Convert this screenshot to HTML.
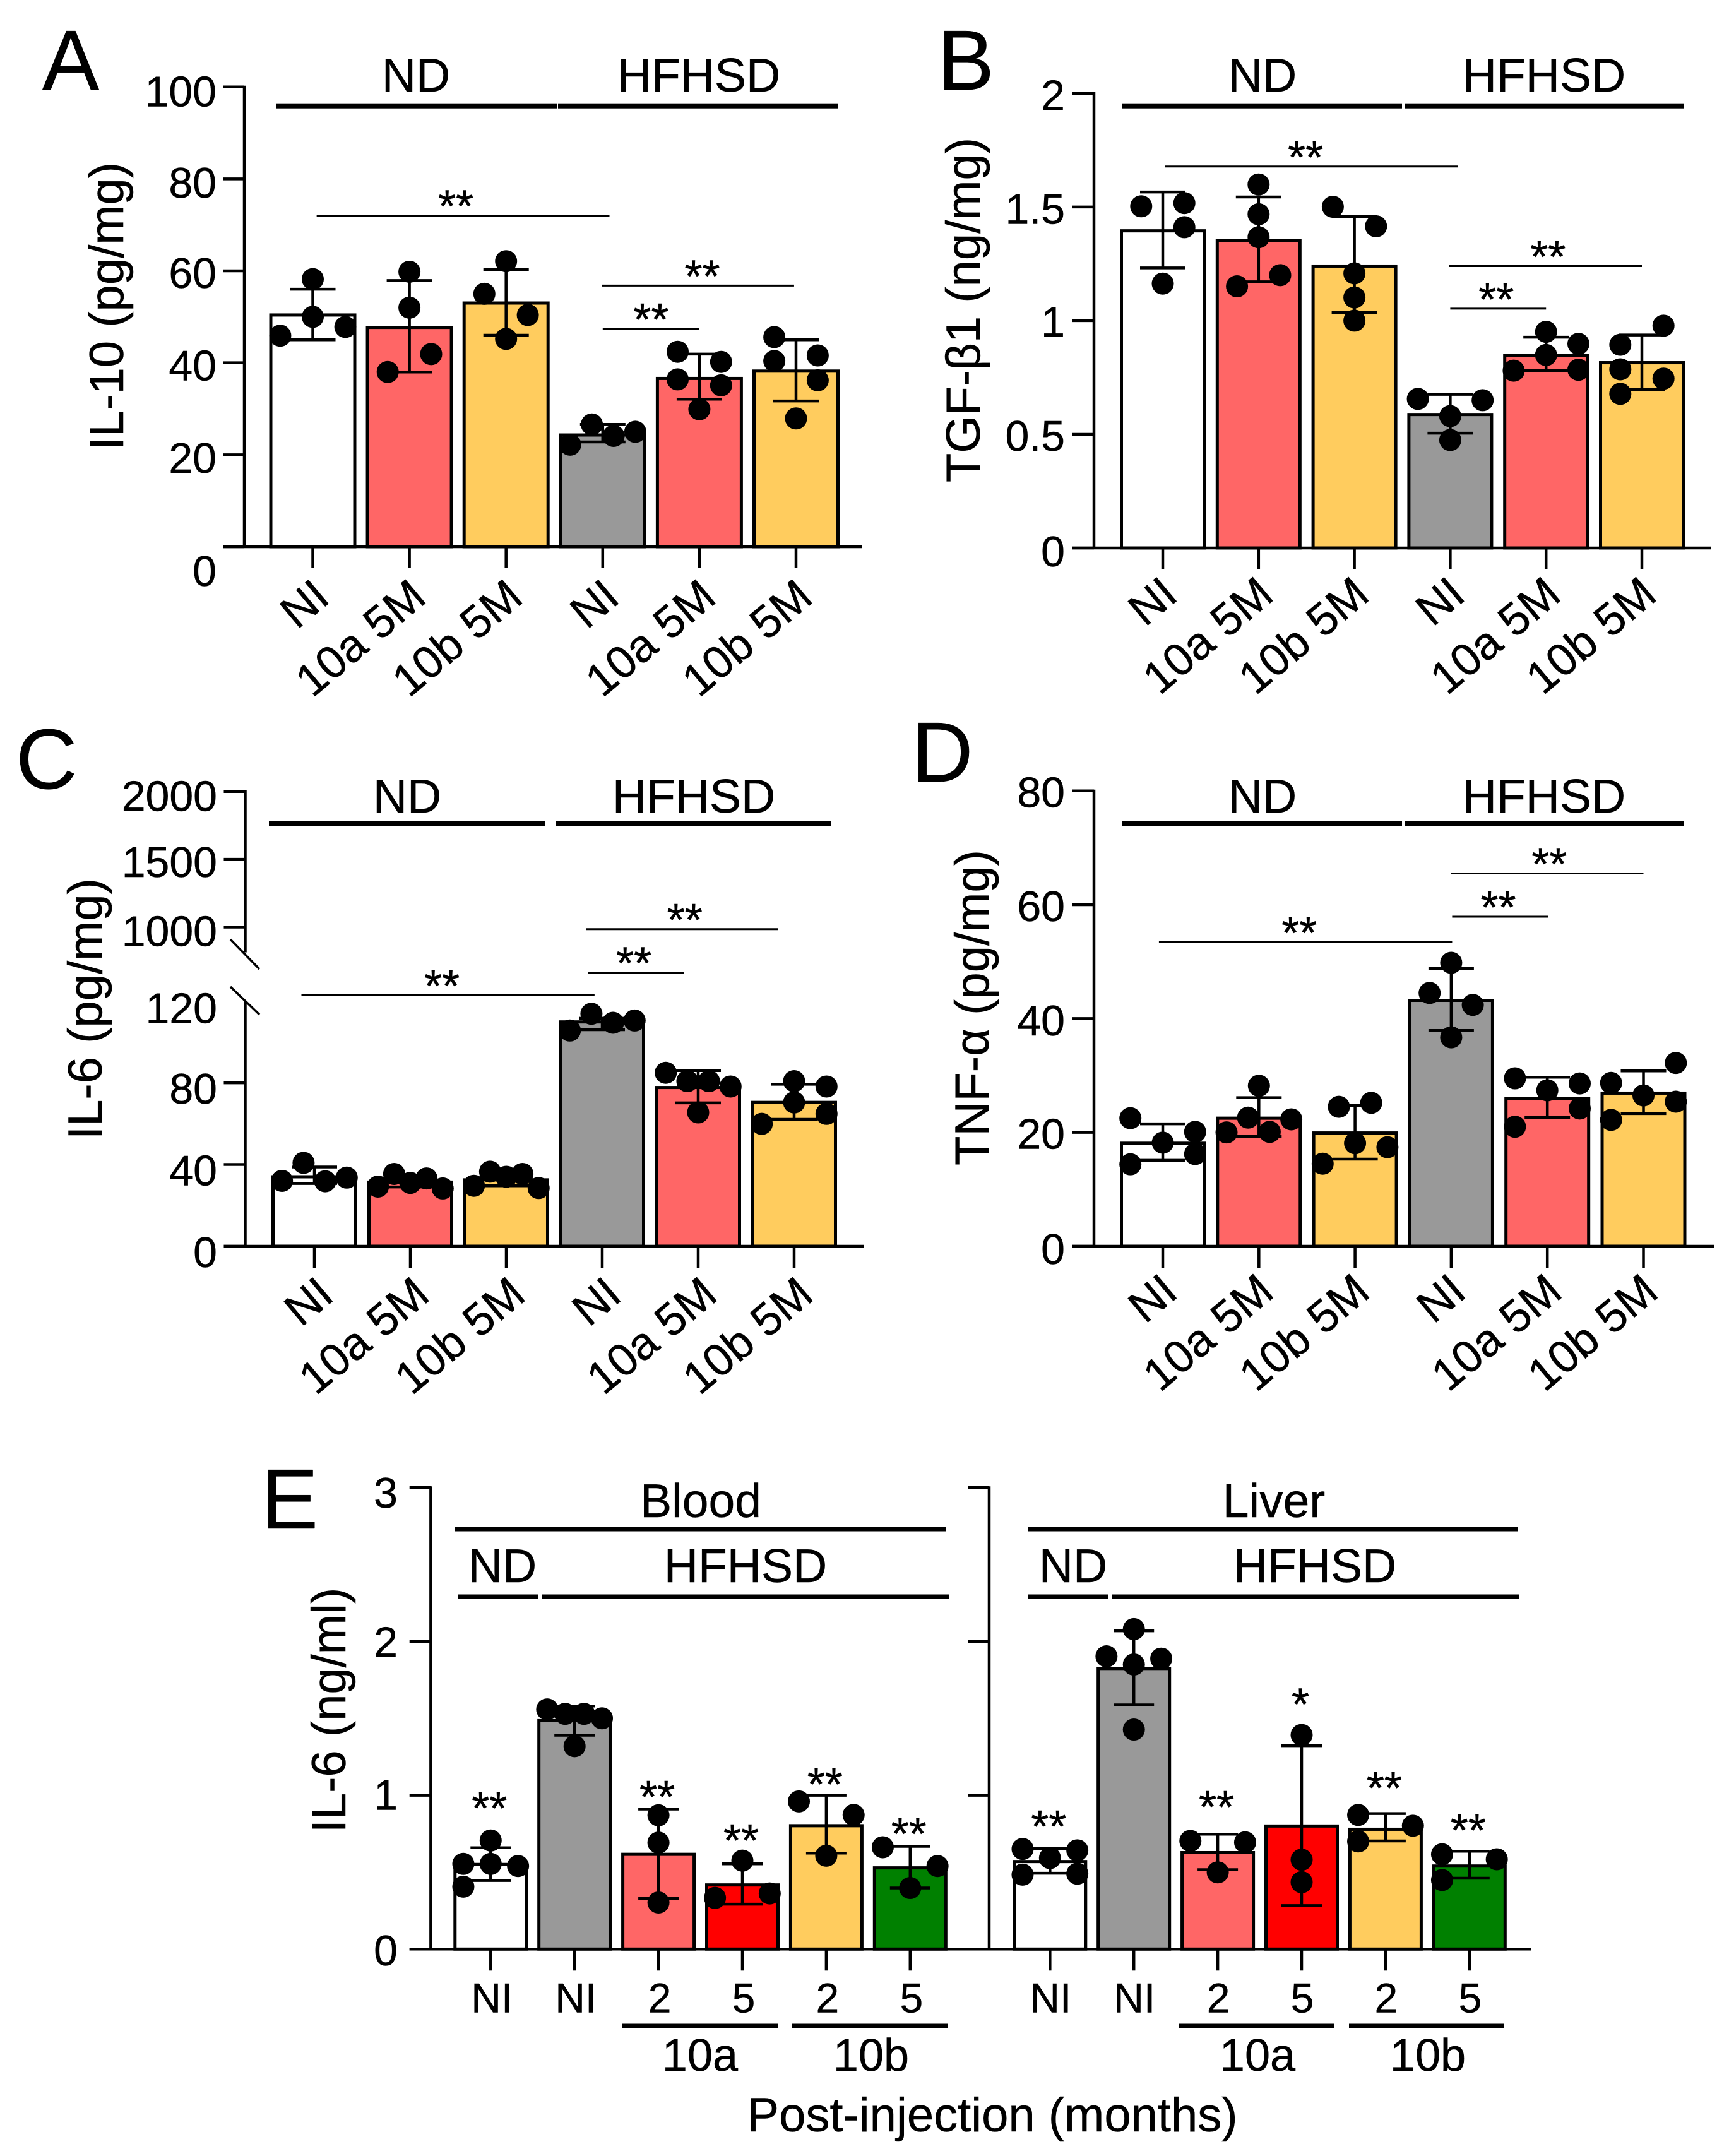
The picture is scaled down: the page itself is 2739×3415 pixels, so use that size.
<!DOCTYPE html>
<html lang="en">
<head>
<meta charset="utf-8">
<title>Cytokine bar charts</title>
<style>
html,body{margin:0;padding:0;background:#fff}
svg{display:block}
text{font-family:"Liberation Sans",sans-serif;fill:#000;stroke:#000;stroke-width:.5px}
.grp{font-size:75px;text-anchor:middle}
.let{font-size:135px}
.ytitle{font-size:76px;text-anchor:middle}
.xg{font-size:72px;text-anchor:middle}
</style>
</head>
<body>
<svg id="figure" xmlns="http://www.w3.org/2000/svg" width="2739" height="3415" viewBox="0 0 2739 3415">
<rect width="2739" height="3415" fill="#fff"/>

<text class="let" x="67" y="142">A</text>
<text class="let" x="1485" y="142">B</text>
<text class="let" x="25" y="1249">C</text>
<text class="let" x="1444" y="1238">D</text>
<text class="let" x="414" y="2421">E</text>

<text class="ytitle" transform="translate(195,485) rotate(-90)">IL-10 (pg/mg)</text>
<text class="ytitle" transform="translate(1552,491) rotate(-90)">TGF-β1 (ng/mg)</text>
<text class="ytitle" transform="translate(161,1598) rotate(-90)">IL-6 (pg/mg)</text>
<text class="ytitle" transform="translate(1566,1596) rotate(-90)">TNF-α (pg/mg)</text>
<text class="ytitle" transform="translate(547,2709) rotate(-90)">IL-6 (ng/ml)</text>

<g>
<text class="grp" x="659" y="145">ND</text>
<text class="grp" x="1107" y="145">HFHSD</text>
<rect x="438" y="163.700" width="444" height="8"/>
<rect x="884" y="163.700" width="444" height="8"/>
<text class="grp" x="2000" y="145">ND</text>
<text class="grp" x="2446" y="145">HFHSD</text>
<rect x="1778" y="163.700" width="443" height="8"/>
<rect x="2225" y="163.700" width="443" height="8"/>
<text class="grp" x="645" y="1287">ND</text>
<text class="grp" x="1099" y="1287">HFHSD</text>
<rect x="426" y="1300.500" width="438" height="8"/>
<rect x="881" y="1300.500" width="436" height="8"/>
<text class="grp" x="2000" y="1287">ND</text>
<text class="grp" x="2446" y="1287">HFHSD</text>
<rect x="1778" y="1300.500" width="443" height="8"/>
<rect x="2225" y="1300.500" width="443" height="8"/>

<text class="grp" x="1110" y="2403">Blood</text>
<rect x="721" y="2418.500" width="777" height="7"/>
<text class="grp" x="796" y="2506">ND</text>
<text class="grp" x="1181" y="2506">HFHSD</text>
<rect x="725" y="2525.500" width="128" height="7"/>
<rect x="859" y="2525.500" width="645" height="7"/>
<text class="grp" x="2018" y="2403">Liver</text>
<rect x="1628" y="2418.500" width="776" height="7"/>
<text class="grp" x="1700" y="2506">ND</text>
<text class="grp" x="2083" y="2506">HFHSD</text>
<rect x="1628" y="2525.500" width="127" height="7"/>
<rect x="1762" y="2525.500" width="645" height="7"/>

<rect x="985" y="3205.500" width="247" height="6.500"/>
<rect x="1255" y="3205.500" width="246" height="6.500"/>
<rect x="1867" y="3205.500" width="247" height="6.500"/>
<rect x="2137" y="3205.500" width="246" height="6.500"/>
<text class="xg" x="1109" y="3280">10a</text>
<text class="xg" x="1380" y="3280">10b</text>
<text class="xg" x="1992" y="3280">10a</text>
<text class="xg" x="2262" y="3280">10b</text>
<text x="1572" y="3376" font-size="76" text-anchor="middle">Post-injection (months)</text>
</g>
<g id="plots"></g>
</svg>

<script>
/* ---------- Panel A: IL-10 ---------- */
const a_categories = ['NI','10a 5M','10b 5M','NI','10a 5M','10b 5M'];
const a_means = [50.4,47.7,53,24.3,36.6,38.2];
const a_errHigh = [56,57.9,60.3,26.6,41.9,45];
const a_errLow = [45,38,46,22.8,32.1,31.7];
const a_dots = [[58.2,50,47.8,45.9],[59.8,52,41.9,38],[62.1,55,50.4,45.2],[26.6,25,24.1,22.2],[42.4,40.2,36.4,35.1,29.9],[45.6,41.6,40.4,36.2,27.9]];
const a_dotSlots = [[0,0,1.5,-1.5],[0,0,1,-1],[0,-1,1,0],[-0.5,1.5,0.5,-1.5],[-1,1,-1,1,0],[-1,1,-1,1,0]];
const a_ticks = [0,20,40,60,80,100];
const a_tickLabels = ['0','20','40','60','80','100'];
const a_sigFrom = [0.04,2.99,3];
const a_sigTo = [3.07,4.98,4];
const a_sigLevel = [72,56.8,47.4];
const a_sigStar = [1.48,4.03,3.5];

/* ---------- Panel B: TGF-beta1 ---------- */
const b_categories = ['NI','10a 5M','10b 5M','NI','10a 5M','10b 5M'];
const b_means = [1.395,1.352,1.24,0.587,0.847,0.815];
const b_errHigh = [1.566,1.544,1.458,0.676,0.927,0.937];
const b_errLow = [1.232,1.171,1.035,0.505,0.78,0.697];
const b_dots = [[1.503,1.517,1.411,1.163],[1.599,1.468,1.367,1.2,1.151],[1.501,1.415,1.208,1.102,1],[0.656,0.65,0.58,0.475],[0.951,0.898,0.849,0.78,0.784],[0.978,0.894,0.786,0.745,0.678]];
const b_dotSlots = [[-1,1,1,0],[0,0,0,1,-1],[-1,1,0,0,0],[-1.5,1.5,0,0],[0,1.5,0,-1.5,1.5],[1,-1,-1,1,-1]];
const b_ticks = [0,0.5,1,1.5,2];
const b_tickLabels = ['0','0.5','1','1.5','2'];
const b_sigFrom = [0.02,2.99,3];
const b_sigTo = [3.08,5,4];
const b_sigLevel = [1.678,1.24,1.053];
const b_sigStar = [1.49,4.02,3.48];

/* ---------- Panel C: IL-6 liver, broken axis ---------- */
const c_categories = ['NI','10a 5M','10b 5M','NI','10a 5M','10b 5M'];
const c_means = [34,31.4,32.5,109.8,77.7,70.4];
const c_errHigh = [38.8,34.5,35.5,111.6,86,79.3];
const c_errLow = [30.7,29,29.6,106,70.2,62.1];
const c_dots = [[40.8,32,31.8,33.6],[35.4,33.2,29.2,31,28.3],[36.5,35.4,34,29.6,28.5],[113.8,110.5,109.4,105.6],[84.9,80.8,80.8,78.2,65.5],[80.8,78.2,70.4,64.8,59.9]];
const c_dotSlots = [[-0.5,-1.5,0.5,1.5],[-0.75,0.75,-1.5,0,1.5],[-0.75,0.75,0,-1.5,1.5],[-0.5,1.5,0.5,-1.5],[-1.5,-0.5,0.5,1.5,0],[0,1.5,0,1.5,-1.5]];
const c_ticks = [0,40,80,1000,1500,2000];
const c_tickLabels = ['0','40','80','1000','1500','2000'];
const c_extraLabels = ['120'];
const c_extraLabelValues = [120];
const c_sigFrom = [-0.135,2.855,2.83];
const c_sigTo = [2.92,3.85,4.835];
const c_sigLevel = [122.9,133.9,155.2];
const c_sigStar = [1.33,3.33,3.86];

/* ---------- Panel D: TNF-alpha ---------- */
const d_categories = ['NI','10a 5M','10b 5M','NI','10a 5M','10b 5M'];
const d_means = [18.1,22.5,19.9,43.2,26,26.9];
const d_errHigh = [21.5,26.1,24.7,48.8,29.7,30.8];
const d_errLow = [15.1,19.3,15.3,37.9,22.6,23.3];
const d_dots = [[22.5,20.1,18.2,16.2,14.4],[28.2,22.6,22.3,20,20.1],[24.5,25.2,18.1,17.4,14.5],[49.8,44.5,42.4,36.7],[29.5,28.6,27.4,24.2,21],[28.7,32.2,26.5,25.4,22.2]];
const d_dotSlots = [[-1.5,1.5,0,1.5,-1.5],[0,-0.5,1.5,-1.5,0.5],[-0.75,0.75,0,1.5,-1.5],[0,-1,1,0],[-1.5,1.5,0,1.5,-1.5],[-1.5,1.5,0,1.5,-1.5]];
const d_ticks = [0,20,40,60,80];
const d_tickLabels = ['0','20','40','60','80'];
const d_sigFrom = [-0.04,3.01,3];
const d_sigTo = [3.01,4.01,5];
const d_sigLevel = [53.4,57.9,65.5];
const d_sigStar = [1.42,3.49,4.02];

/* ---------- Panel E: IL-6 time course ---------- */
const e_ticks = [0,1,2,3];
const e_tickLabels = ['0','1','2','3'];
const eb_categories = ['NI','NI','2','5','2','5'];
const eb_means = [0.55,1.485,0.616,0.417,0.802,0.528];
const eb_errHigh = [0.659,1.58,0.91,0.554,1,0.668];
const eb_errLow = [0.446,1.39,0.33,0.292,0.624,0.397];
const eb_dots = [[0.706,0.554,0.554,0.54,0.406],[1.558,1.529,1.529,1.5,1.319],[0.87,0.692,0.303],[0.575,0.362,0.333],[0.96,0.872,0.607],[0.662,0.54,0.397]];
const eb_dotSlots = [[0,-1.45,0,1.45,-1.45],[-1.45,-0.5,0.5,1.45,0],[0,0,0],[0,1.45,-1.45],[-1.45,1.45,0],[-1.45,1.45,0]];
const eb_starMarks = ['**','','**','**','**','**'];
const eb_starLevels = [0.945,0,1.018,0.735,1.1,0.779];
const el_categories = ['NI','NI','2','5','2','5'];
const el_means = [0.569,1.824,0.627,0.8,0.779,0.54];
const el_errHigh = [0.654,2.069,0.747,1.322,0.881,0.636];
const el_errLow = [0.493,1.587,0.516,0.283,0.703,0.461];
const el_dots = [[0.651,0.642,0.592,0.484,0.49],[2.08,1.903,1.888,1.85,1.427],[0.703,0.694,0.499],[1.392,0.581,0.435],[0.872,0.802,0.7],[0.616,0.584,0.449]];
const el_dotSlots = [[-1.45,1.45,0,-1.45,1.45],[0,-1.45,1.45,0,0],[-1.45,1.45,0],[0,0,0],[-1.45,1.45,-1.45],[-1.45,1.45,-1.45]];
const el_starMarks = ['**','','**','*','**','**'];
const el_starLevels = [0.826,0,0.954,1.62,1.077,0.802];

const PINK = '#FF6666', GOLD = '#FFCC5E', GREY = '#999999', RED = '#FF0000', GREEN = '#008000', WHITE = '#FFFFFF';
const NS = 'http://www.w3.org/2000/svg';
const root = document.getElementById('plots');

function mk(parent, tag, attrs) {
  const el = document.createElementNS(NS, tag);
  for (const k in attrs) el.setAttribute(k, attrs[k]);
  parent.appendChild(el);
  return el;
}

function drawBars(g, cfg) {
  const xAt = i => cfg.x0 + i * cfg.step;
  cfg.means.forEach((m, i) => {
    const cx = xAt(i), w = cfg.barW - 5;
    const bar = mk(g, 'rect', {x: cx - w / 2, y: cfg.y(m), width: w, height: cfg.y(0) - cfg.y(m), fill: cfg.colors[i], stroke: '#000', 'stroke-width': 5});
    
    
  });
  cfg.means.forEach((m, i) => {
    const cx = xAt(i), hi = cfg.y(cfg.errHigh[i]), lo = cfg.y(cfg.errLow[i]);
    const stem = mk(g, 'line', {x1: cx, x2: cx, y1: hi, y2: lo, stroke: '#000', 'stroke-width': 4.5});
    
    
    const capHi = mk(g, 'line', {x1: cx - cfg.cap, x2: cx + cfg.cap, y1: hi, y2: hi, stroke: '#000', 'stroke-width': 4.5});
    
    
    const capLo = mk(g, 'line', {x1: cx - cfg.cap, x2: cx + cfg.cap, y1: lo, y2: lo, stroke: '#000', 'stroke-width': 4.5});
    
    
  });
  cfg.dots.forEach((vals, i) => {
    vals.forEach((v, j) => {
      const dot = mk(g, 'circle', {cx: xAt(i) + cfg.dotSlots[i][j] * cfg.slot, cy: cfg.y(v), r: 17.5, fill: '#000'});
      
      
    });
  });
}

function drawXTicks(g, cfg) {
  cfg.means.forEach((m, i) => {
    const cx = cfg.x0 + i * cfg.step;
    const tick = mk(g, 'line', {x1: cx, x2: cx, y1: cfg.y(0), y2: cfg.y(0) + 34, stroke: '#000', 'stroke-width': 4.5});
    
    
    const label = mk(g, 'text', cfg.rotated
      ? {'font-size': 72, 'text-anchor': 'end', transform: 'translate(' + (cx + cfg.xLabelDx) + ',' + (cfg.y(0) + cfg.xLabelDy) + ') rotate(-40)'}
      : {'font-size': 66, 'text-anchor': 'middle', x: cx + cfg.xLabelDx, y: cfg.y(0) + cfg.xLabelDy});
    label.textContent = cfg.categories[i];
    
    
  });
}

function drawYAxis(g, cfg) {
  if (!cfg.broken) {
    const top = cfg.y(cfg.ticks[cfg.ticks.length - 1]);
    const axis = mk(g, 'line', {x1: cfg.axisX, x2: cfg.axisX, y1: top - 2, y2: cfg.y(0), stroke: '#000', 'stroke-width': 4.5});
    
    
  }
  cfg.ticks.forEach((t, i) => {
    const ty = cfg.y(t);
    const tick = mk(g, 'line', {x1: cfg.tickLeft, x2: cfg.axisX, y1: ty, y2: ty, stroke: '#000', 'stroke-width': 4.5});
    
    
    if (cfg.tickLabels) {
      const lbl = mk(g, 'text', {'font-size': cfg.tickFont, 'text-anchor': 'end', x: cfg.labelRight, y: ty + cfg.tickFont * 0.35 + cfg.labelNudge[i]});
      lbl.textContent = cfg.tickLabels[i];
      
      
    }
  });
}

function drawBaseline(g, x1, x2, y) {
  const base = mk(g, 'line', {x1: x1, x2: x2, y1: y, y2: y, stroke: '#000', 'stroke-width': 4.5});
  
  
}

function starText(g, x, lineY, mark) {
  const s = mk(g, 'text', {'font-size': 72, 'text-anchor': 'middle', x: x, y: lineY + 10});
  s.textContent = mark;
  
  
}

function drawSig(g, cfg) {
  const xAt = i => cfg.x0 + i * cfg.step;
  cfg.sigLevel.forEach((lv, i) => {
    const ly = cfg.y(lv);
    const line = mk(g, 'line', {x1: xAt(cfg.sigFrom[i]), x2: xAt(cfg.sigTo[i]), y1: ly, y2: ly, stroke: '#000', 'stroke-width': 3});
    
    
    starText(g, xAt(cfg.sigStar[i]), ly, '**');
  });
}

function drawPanel(cfg) {
  const g = mk(root, 'g', {});
  
  
  drawBars(g, cfg);
  drawBaseline(g, cfg.tickLeft, cfg.axisRight, cfg.y(0));
  drawYAxis(g, cfg);
  drawXTicks(g, cfg);
  drawSig(g, cfg);
  return g;
}

const colors6 = [WHITE, PINK, GOLD, GREY, PINK, GOLD];

drawPanel({
  name: 'panel-a', x0: 495.5, step: 153.1, barW: 138, cap: 36, slot: 34.4,
  y: v => 866 - v * 7.283, axisX: 387, tickLeft: 353, axisRight: 1366,
  labelRight: 343, tickFont: 68, labelNudge: [38, 5, 4, 3, 6, 7],
  rotated: true, xLabelDx: 30, xLabelDy: 86, colors: colors6,
  categories: a_categories, means: a_means, errHigh: a_errHigh, errLow: a_errLow,
  dots: a_dots, dotSlots: a_dotSlots, ticks: a_ticks, tickLabels: a_tickLabels,
  sigFrom: a_sigFrom, sigTo: a_sigTo, sigLevel: a_sigLevel, sigStar: a_sigStar
});

drawPanel({
  name: 'panel-b', x0: 1842, step: 151.8, barW: 136, cap: 36, slot: 34.2,
  y: v => 868 - v * 360.1, axisX: 1733, tickLeft: 1699, axisRight: 2711,
  labelRight: 1687, tickFont: 68, labelNudge: [5, 2, 2, 3, 3],
  rotated: true, xLabelDx: 27, xLabelDy: 80, colors: colors6,
  categories: b_categories, means: b_means, errHigh: b_errHigh, errLow: b_errLow,
  dots: b_dots, dotSlots: b_dotSlots, ticks: b_ticks, tickLabels: b_tickLabels,
  sigFrom: b_sigFrom, sigTo: b_sigTo, sigLevel: b_sigLevel, sigStar: b_sigStar
});

/* Panel C piecewise axis: lower segment 0-120, upper segment 1000-2000 */
const yC = v => v <= 200 ? 1974 - v * 3.236 : 1468.5 - (v - 1000) * 0.2147;
const gC = drawPanel({
  name: 'panel-c', x0: 498, step: 152, barW: 136, cap: 36, slot: 34.2,
  y: yC, axisX: 388.5, tickLeft: 354.5, axisRight: 1368, broken: true,
  labelRight: 344, tickFont: 68, labelNudge: [9, 9, 9, 6, 4, 7],
  rotated: true, xLabelDx: 34, xLabelDy: 83, colors: colors6,
  categories: c_categories, means: c_means, errHigh: c_errHigh, errLow: c_errLow,
  dots: c_dots, dotSlots: c_dotSlots, ticks: c_ticks, tickLabels: c_tickLabels,
  sigFrom: c_sigFrom, sigTo: c_sigTo, sigLevel: c_sigLevel, sigStar: c_sigStar
});
const cLower = mk(gC, 'line', {x1: 388.5, x2: 388.5, y1: yC(120), y2: yC(0), stroke: '#000', 'stroke-width': 4.5});


const cUpper = mk(gC, 'line', {x1: 388.5, x2: 388.5, y1: yC(2000) - 2, y2: yC(1000) + 40, stroke: '#000', 'stroke-width': 4.5});


const cBreakTop = mk(gC, 'line', {x1: 365, x2: 411, y1: 1488, y2: 1535, stroke: '#000', 'stroke-width': 3.5});


const cBreakLow = mk(gC, 'line', {x1: 365, x2: 411, y1: 1563, y2: 1607, stroke: '#000', 'stroke-width': 3.5});


c_extraLabels.forEach((t, i) => {
  const lbl = mk(gC, 'text', {'font-size': 68, 'text-anchor': 'end', x: 344, y: yC(c_extraLabelValues[i]) + 24 + 11});
  lbl.textContent = t;
  
  
});

drawPanel({
  name: 'panel-d', x0: 1842, step: 152.3, barW: 136, cap: 36, slot: 34.2,
  y: v => 1974 - v * 9.016, axisX: 1733, tickLeft: 1699, axisRight: 2715,
  labelRight: 1687, tickFont: 68, labelNudge: [4, 2, 3, 2, 2],
  rotated: true, xLabelDx: 27, xLabelDy: 78, colors: colors6,
  categories: d_categories, means: d_means, errHigh: d_errHigh, errLow: d_errLow,
  dots: d_dots, dotSlots: d_dotSlots, ticks: d_ticks, tickLabels: d_tickLabels,
  sigFrom: d_sigFrom, sigTo: d_sigTo, sigLevel: d_sigLevel, sigStar: d_sigStar
});

/* Panel E: two sub-plots sharing a baseline */
const yE = v => 3087.3 - v * 243.7;
function drawE(cfg) {
  const g = mk(root, 'g', {});
  
  
  drawBars(g, cfg);
  drawYAxis(g, cfg);
  drawXTicks(g, cfg);
  cfg.starMarks.forEach((mark, i) => {
    if (mark) starText(g, cfg.x0 + i * cfg.step - 2, yE(cfg.starLevels[i]) + 22, mark);
  });
}
drawBaseline(root, 648.7, 2425, yE(0));
drawE({
  name: 'panel-e-blood', x0: 777.3, step: 132.9, barW: 118, cap: 32, slot: 29.9,
  y: yE, axisX: 682.4, tickLeft: 648.7, labelRight: 630, tickFont: 68, labelNudge: [2, -1, 1, 8],
  rotated: false, xLabelDx: 2, xLabelDy: 100, colors: [WHITE, GREY, PINK, RED, GOLD, GREEN],
  categories: eb_categories, means: eb_means, errHigh: eb_errHigh, errLow: eb_errLow,
  dots: eb_dots, dotSlots: eb_dotSlots, ticks: e_ticks, tickLabels: e_tickLabels,
  starMarks: eb_starMarks, starLevels: eb_starLevels
});
drawE({
  name: 'panel-e-liver', x0: 1663.3, step: 132.9, barW: 118, cap: 32, slot: 29.9,
  y: yE, axisX: 1567, tickLeft: 1534, rotated: false, xLabelDx: 1, xLabelDy: 100,
  colors: [WHITE, GREY, PINK, RED, GOLD, GREEN],
  categories: el_categories, means: el_means, errHigh: el_errHigh, errLow: el_errLow,
  dots: el_dots, dotSlots: el_dotSlots, ticks: e_ticks,
  starMarks: el_starMarks, starLevels: el_starLevels
});
</script>
</body>
</html>
